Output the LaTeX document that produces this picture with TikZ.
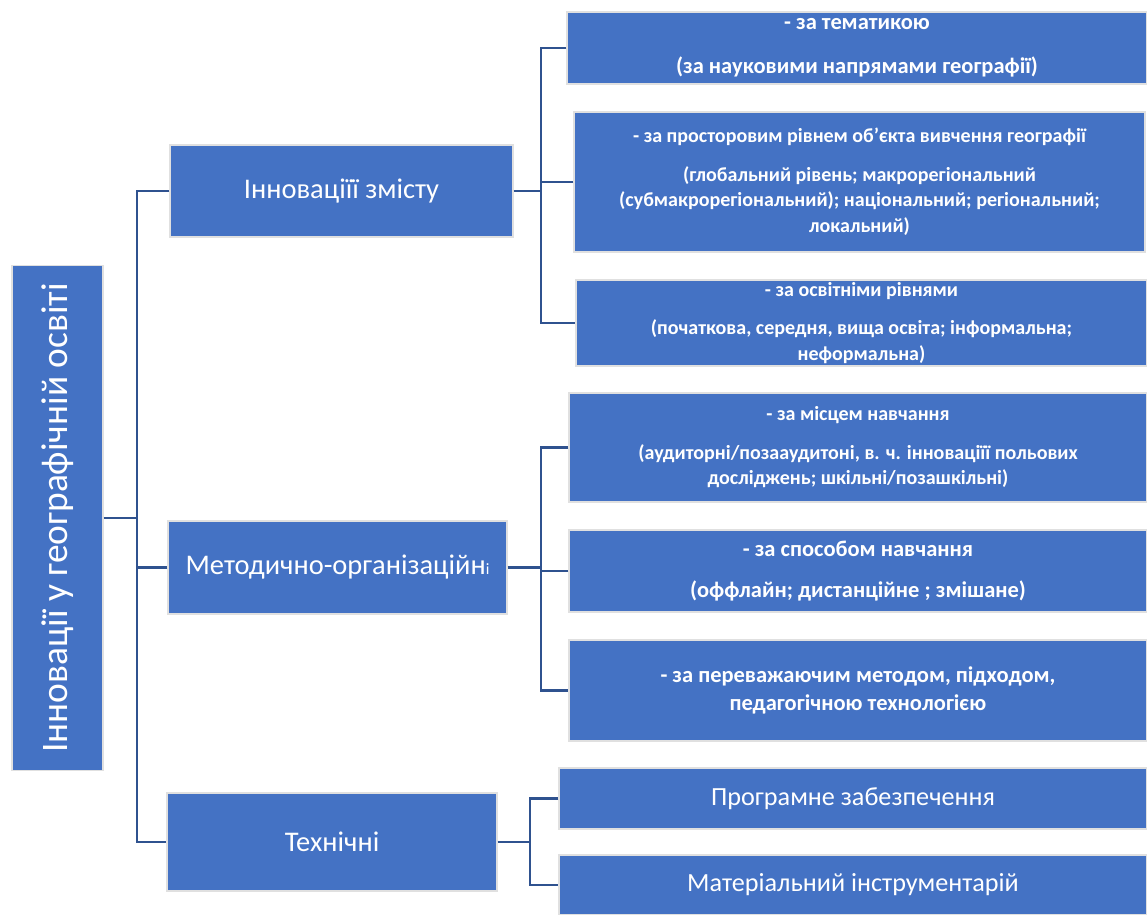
\documentclass[tikz,border=0pt]{standalone}
\usepackage{fontspec}
\setmainfont{Carlito}
\definecolor{boxblue}{HTML}{4472C4}
\definecolor{linkblue}{HTML}{2F528F}
\tikzset{
  x=0.02cm, y=-0.02cm,
  box/.style={fill=boxblue, draw=black!12, line width=0.6pt, text=white, inner sep=0pt, align=center, anchor=center},
  conn/.style={draw=linkblue, line width=1.4pt, line join=miter},
  fs/.style={font=\fontsize{11.4}{14.7}\selectfont\bfseries},
  fm/.style={font=\fontsize{12.8}{15.9}\selectfont\bfseries},
  fl/.style={font=\fontsize{16.2}{19}\selectfont},
  fb/.style={font=\fontsize{14.9}{17}\selectfont},
}
% \mybox{name}{style}{x1}{y1}{x2}{y2}{text}
\newcommand{\mybox}[7]{%
  \node[box, #2, minimum width={(#5-#3)*0.02cm}, minimum height={(#6-#4)*0.02cm}]
    (#1) at ({(#3+#5)/2},{(#4+#6)/2}) {#7};}
\begin{document}
\begin{tikzpicture}
\useasboundingbox[fill=white] (0,0) rectangle (1147,915);
% root
\node[box, rotate=90, minimum width=10.12cm, minimum height=1.82cm, font=\fontsize{21.3}{24}\selectfont] (root) at (57.5,518) {Інновації у географічній освіті};
% level 1
\mybox{la}{fl}{170}{145}{513}{237}{Інноваціїї змісту}
\mybox{lb}{fl}{168}{521}{507}{614}{Методично-організаційн{\fontsize{9}{9}\selectfont і}}
\mybox{lc}{fl}{167}{793}{497}{891}{Технічні}
% level 2
\mybox{b1}{fm}{567}{12}{1147}{84}{- за тематикою\\[9pt](за науковими напрямами географії)}
\mybox{b2}{fs}{574}{112}{1145}{252}{- за просторовим рівнем об'єкта вивчення географії\\[7pt](глобальний рівень; макрорегіональний\\(субмакрорегіональний); національний; регіональний;\\локальний)}
\mybox{b3}{fs}{576}{280}{1147}{366}{- за освітніми рівнями\\[7pt](початкова, середня, вища освіта; інформальна;\\неформальна)}
\mybox{b4}{fs}{569}{393}{1147}{502}{- за місцем навчання\\[7pt](аудиторні/позааудитоні, в. ч. інноваціїї польових\\досліджень; шкільні/позашкільні)}
\mybox{b5}{fm}{569}{530}{1147}{612}{- за способом навчання\\[7pt](оффлайн; дистанційне ; змішане)}
\mybox{b6}{fm}{569}{640}{1147}{741}{- за переважаючим методом, підходом,\\педагогічною технологією}
\mybox{b7}{fb}{559}{768}{1147}{829}{Програмне забезпечення}
\mybox{b8}{fb}{559}{855}{1147}{915}{Матеріальний інструментарій}
% bus coordinates
\coordinate (tr) at (137,0);
\coordinate (g1) at (541,0);
\coordinate (g2) at (541,0);
\coordinate (g3) at (530,0);
% trunk
\draw[conn] (root.south) -- (root.south -| tr);
\draw[conn] (la.west) -- (la.west -| tr) -- (lc.west -| tr) -- (lc.west);
\draw[conn] (lb.west) -- (lb.west -| tr);
% group 1
\draw[conn] (la.east) -- (la.east -| g1);
\draw[conn] (b1.west) -- (b1.west -| g1) -- (b3.west -| g1) -- (b3.west);
\draw[conn] (b2.west) -- (b2.west -| g1);
% group 2
\draw[conn] (lb.east) -- (lb.east -| g2);
\draw[conn] (b4.west) -- (b4.west -| g2) -- (b6.west -| g2) -- (b6.west);
\draw[conn] (b5.west) -- (b5.west -| g2);
% group 3
\draw[conn] (lc.east) -- (lc.east -| g3);
\draw[conn] (b7.west) -- (b7.west -| g3) -- (b8.west -| g3) -- (b8.west);
\end{tikzpicture}
\end{document}
